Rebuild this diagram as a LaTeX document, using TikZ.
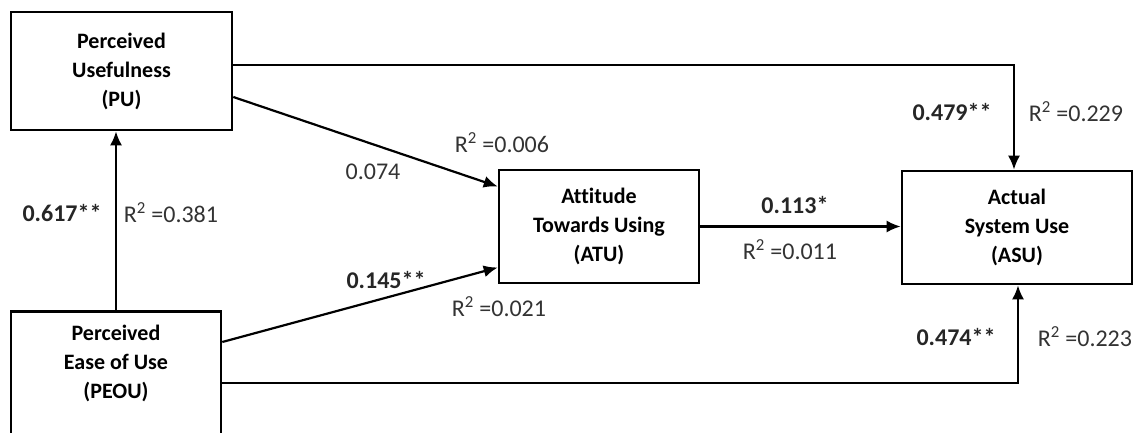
\documentclass[tikz,border=0pt]{standalone}
\usepackage{fontspec}
\setmainfont{Carlito}[Ligatures=CommonOff]
\usetikzlibrary{arrows.meta,positioning}
\tikzset{construct/.style={
            draw,
            line width=2.6pt,
            fill=white,
            align=center,
            font=\bfseries\fontsize{22}{29}\selectfont,
            inner sep=0pt
        },
        signif/.style={
            font=\bfseries\fontsize{24}{28}\selectfont,
            text=black!85
        },
        estimate/.style={
            font=\fontsize{24}{28}\selectfont,
            text=black!80
        },
        link/.style={
            line width=2.2pt,
            -{Latex[length=14pt,width=12pt]}
        }
    }

\begin{document}
\begin{tikzpicture}[x=1pt,y=-1pt]
        \useasboundingbox (0,0) rectangle (1138,433);
        \node[construct,minimum width=221pt,minimum height=118pt] at (121.5,71) (pu) {Perceived\\Usefulness\\(PU)};
        \node[construct,minimum width=210pt,anchor=north,inner ysep=14pt,text depth=110pt] at (116,310) (peou) {Perceived\\Ease of Use\\(PEOU)};
        \node[construct,minimum width=200pt,minimum height=113pt] at (599,226.5) (atu) {Attitude\\Towards Using\\(ATU)};
        \node[construct,minimum width=230pt,minimum height=113pt] at (1017,227.5) (asu) {Actual\\System Use\\(ASU)};
        \coordinate (topbend) at (1014,65);
        \coordinate (lowbend) at (1018,383);
        \draw[link] (peou.north) -- (peou.north |- pu.south);
        \draw[link] ([yshift=-26pt]pu.east) -- ([yshift=40pt]atu.west);
        \draw[link] ([yshift=-32pt]peou.north east) -- ([yshift=-41pt]atu.west);
        \draw[link] (atu.east) -- (atu.east -| asu.west);
        \draw[link] (pu.east |- topbend) -- (topbend) -- (topbend |- asu.north);
        \draw[link] (peou.east |- lowbend) -- (lowbend) -- (lowbend |- asu.south);
        \node[signif] at (62,213) (b617) {0.617**};
        \node[estimate] at (171,213) (r381) {R\textsuperscript{2} =0.381};
        \node[estimate] at (373,172) (b074) {0.074};
        \node[estimate] at (502,143) (r006) {R\textsuperscript{2} =0.006};
        \node[signif] at (386,280) (b145) {0.145**};
        \node[estimate] at (499,307) (r021) {R\textsuperscript{2} =0.021};
        \node[signif] at (795,205) (b113) {0.113*};
        \node[estimate] at (790,250) (r011) {R\textsuperscript{2} =0.011};
        \node[signif] at (952,112) (b479) {0.479**};
        \node[estimate] at (1076,112) (r229) {R\textsuperscript{2} =0.229};
        \node[signif] at (956,337) (b474) {0.474**};
        \node[estimate] at (1085,337) (r223) {R\textsuperscript{2} =0.223};
    \end{tikzpicture}
\end{document}
